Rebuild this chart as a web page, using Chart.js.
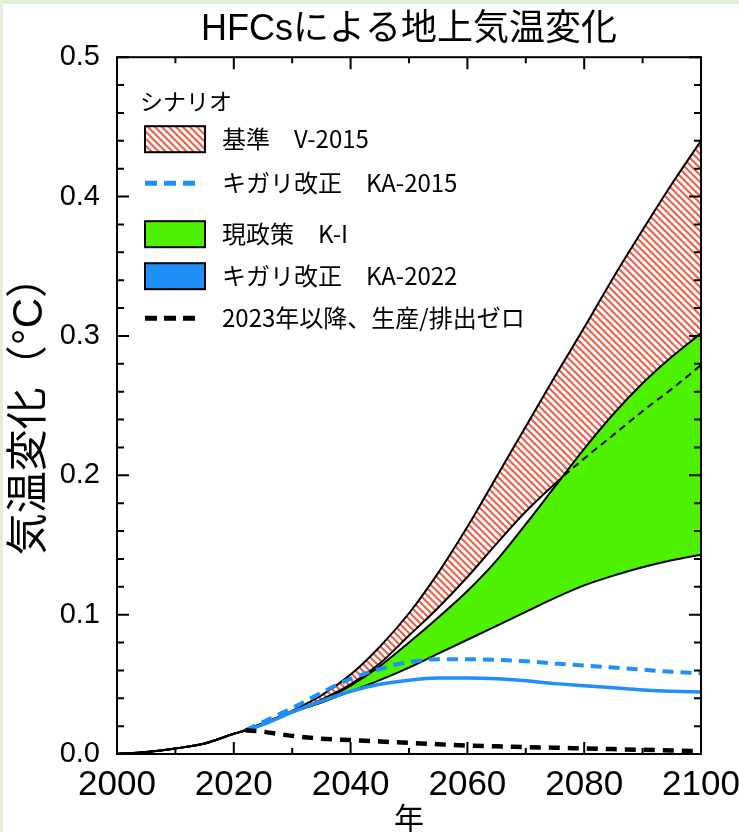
<!DOCTYPE html>
<html lang="ja">
<head>
<meta charset="UTF-8">
<title>HFCsによる地上気温変化</title>
<script src="https://cdn.jsdelivr.net/npm/chart.js"></script>
<style>
  html, body { margin: 0; padding: 0; background: #fff; }
  canvas { display: block; }
</style>
</head>
<body>
<canvas id="myChart" width="739" height="832"></canvas>
<script>
// 年（横軸）
const years = [2000, 2005, 2010, 2015, 2020, 2022, 2025, 2030, 2035, 2040, 2045, 2050,
               2055, 2060, 2065, 2070, 2075, 2080, 2085, 2090, 2095, 2100];

// 基準 V-2015（上限・下限）
const v2015Upper = [0, 0.0015, 0.004, 0.0075, 0.0145, 0.017, 0.022, 0.031, 0.042, 0.057, 0.077, 0.101,
                    0.130, 0.163, 0.199, 0.235, 0.271, 0.306, 0.342, 0.376, 0.409, 0.440];
const v2015Lower = [0, 0.0015, 0.004, 0.0075, 0.0145, 0.017, 0.022, 0.030, 0.039, 0.050, 0.065, 0.085,
                    0.105, 0.127, 0.151, 0.174, 0.194, 0.212, 0.229, 0.246, 0.262, 0.279];

// 現政策 K-I（上限・下限）
const kiUpper = [0, 0.0015, 0.004, 0.0075, 0.0145, 0.017, 0.022, 0.030, 0.038, 0.049, 0.063, 0.080,
                 0.098, 0.117, 0.139, 0.165, 0.192, 0.219, 0.244, 0.266, 0.285, 0.302];
const kiLower = [0, 0.0015, 0.004, 0.0075, 0.0145, 0.017, 0.022, 0.030, 0.037, 0.045, 0.053, 0.062,
                 0.072, 0.082, 0.092, 0.102, 0.112, 0.121, 0.128, 0.134, 0.139, 0.143];

// キガリ改正 KA-2015 / KA-2022、2023年以降ゼロ
const ka2015 = [null, null, null, null, null, 0.017, 0.023, 0.033, 0.044, 0.054, 0.061, 0.066,
                0.068, 0.068, 0.0675, 0.0665, 0.065, 0.0635, 0.062, 0.0605, 0.059, 0.058];
const ka2022 = [null, null, null, null, null, 0.017, 0.021, 0.030, 0.038, 0.045, 0.050, 0.053,
                0.0545, 0.0545, 0.054, 0.0525, 0.0505, 0.049, 0.0475, 0.046, 0.045, 0.0445];
const zero2023 = [null, null, null, null, null, 0.017, 0.016, 0.013, 0.011, 0.010, 0.009, 0.008,
                  0.007, 0.006, 0.0055, 0.005, 0.0045, 0.004, 0.0035, 0.003, 0.0025, 0.002];

// 凡例
const legendTitle = 'シナリオ';
const legendLabels = ['基準　V-2015', 'キガリ改正　KA-2015', '現政策　K-I', 'キガリ改正　KA-2022', '2023年以降、生産/排出ゼロ'];

const GREEN = '#4ef200';
const BLUE = '#1f8ffa';
const HATCH_RED = '#f0624c';

// 斜線パターン
function makeHatch() {
    const c = document.createElement('canvas');
    c.width = 7; c.height = 7;
    const g = c.getContext('2d');
    g.fillStyle = '#fff';
    g.fillRect(0, 0, 7, 7);
    g.strokeStyle = HATCH_RED;
    g.lineWidth = 2.2;
    g.beginPath();
    g.moveTo(-1, -1); g.lineTo(8, 8);
    g.moveTo(-1, 6); g.lineTo(1, 8);
    g.moveTo(6, -1); g.lineTo(8, 1);
    g.stroke();
    return g.createPattern(c, 'repeat');
}
const hatch = makeHatch();

const toXY = arr => years.map((yr, i) => ({ x: yr, y: arr[i] }));

// 背景（外枠の薄緑）
const pageBg = {
    id: 'pageBg',
    beforeDraw(chart) {
        const ctx = chart.ctx;
        ctx.save();
        ctx.fillStyle = '#e2efd9';
        ctx.fillRect(0, 0, chart.width, chart.height);
        ctx.fillStyle = '#fff';
        ctx.fillRect(3, 4, chart.width - 3, chart.height - 4);
        ctx.restore();
    }
};

// 枠と内向きの目盛り
const frameTicks = {
    id: 'frameTicks',
    afterDatasetsDraw(chart) {
        const { ctx, chartArea: a, scales: { x, y } } = chart;
        ctx.save();
        ctx.strokeStyle = '#000';
        ctx.lineWidth = 2;
        ctx.beginPath();
        for (let yr = 2000; yr <= 2100; yr += 10) {
            const px = x.getPixelForValue(yr);
            const len = yr % 20 === 0 ? 12 : 6;
            ctx.moveTo(px, a.bottom); ctx.lineTo(px, a.bottom - len);
            ctx.moveTo(px, a.top); ctx.lineTo(px, a.top + len);
        }
        for (let i = 0; i <= 25; i++) {
            const py = y.getPixelForValue(i * 0.02);
            const len = i % 5 === 0 ? 12 : 7;
            ctx.moveTo(a.left, py); ctx.lineTo(a.left + len, py);
            ctx.moveTo(a.right, py); ctx.lineTo(a.right - len, py);
        }
        ctx.stroke();
        ctx.strokeRect(a.left, a.top, a.right - a.left, a.bottom - a.top);
        ctx.restore();
    }
};

// 凡例（グラフ内左上）
const scenarioLegend = {
    id: 'scenarioLegend',
    afterDraw(chart) {
        const { ctx, chartArea: a } = chart;
        const bx = a.left + 28, tx = a.left + 105;
        const rows = [82, 126, 177, 219, 261];
        ctx.save();
        ctx.fillStyle = '#000';
        ctx.textBaseline = 'middle';
        ctx.font = '23px "Noto Sans CJK JP", sans-serif';
        ctx.fillText(legendTitle, a.left + 23, a.top + 44);
        ctx.font = '24px "Noto Sans CJK JP", sans-serif';
        legendLabels.forEach((label, i) => {
            const cy = a.top + rows[i];
            ctx.lineWidth = 2;
            ctx.strokeStyle = '#000';
            if (i === 0 || i === 2 || i === 3) {
                ctx.fillStyle = i === 0 ? hatch : (i === 2 ? GREEN : BLUE);
                ctx.fillRect(bx, cy - 13, 60, 26);
                ctx.strokeRect(bx, cy - 13, 60, 26);
            } else {
                ctx.strokeStyle = i === 1 ? BLUE : '#000';
                ctx.lineWidth = 5;
                ctx.setLineDash([12, 7]);
                ctx.beginPath();
                ctx.moveTo(bx, cy); ctx.lineTo(bx + 52, cy);
                ctx.stroke();
                ctx.setLineDash([]);
            }
            ctx.fillStyle = '#000';
            ctx.fillText(label, tx, cy);
        });
        ctx.restore();
    }
};

Chart.defaults.font.family = '"Liberation Sans", "Noto Sans CJK JP", sans-serif';
Chart.defaults.color = '#000';

const ctx = document.getElementById('myChart').getContext('2d');
const chart = new Chart(ctx, {
    type: 'line',
    data: {
        datasets: [
            { // 0: V-2015 上限（斜線の帯）
                data: toXY(v2015Upper), borderColor: '#000', borderWidth: 2,
                backgroundColor: hatch, fill: '+1', order: 6
            },
            { // 1: V-2015 下限（緑に隠れる部分は破線）
                data: toXY(v2015Lower), borderColor: '#000', borderWidth: 2, fill: false, order: 3,
                segment: { borderDash: c => c.p0.parsed.x >= 2075 ? [7, 5] : undefined }
            },
            { // 2: K-I 上限（緑の帯）
                data: toXY(kiUpper), borderColor: '#000', borderWidth: 2,
                backgroundColor: GREEN, fill: '+1', order: 5
            },
            { // 3: K-I 下限
                data: toXY(kiLower), borderColor: '#000', borderWidth: 2, fill: false, order: 4
            },
            { // 4: KA-2015
                data: toXY(ka2015), borderColor: BLUE, borderWidth: 4, borderDash: [11, 7], fill: false, order: 2
            },
            { // 5: KA-2022
                data: toXY(ka2022), borderColor: BLUE, borderWidth: 3.5, fill: false, order: 1
            },
            { // 6: 2023年以降ゼロ
                data: toXY(zero2023), borderColor: '#000', borderWidth: 4.5, borderDash: [11, 8], fill: false, order: 0
            }
        ]
    },
    options: {
        responsive: false,
        animation: false,
        elements: {
            point: { radius: 0 },
            line: { cubicInterpolationMode: 'monotone' }
        },
        layout: { padding: { top: 0, right: 38, bottom: 0, left: 0 } },
        plugins: {
            legend: { display: false },
            tooltip: { enabled: false },
            title: {
                display: true,
                text: 'HFCsによる地上気温変化',
                fullSize: false,
                font: { size: 36, weight: 'normal' },
                padding: { top: 8, bottom: 6 }
            }
        },
        scales: {
            x: {
                type: 'linear', min: 2000, max: 2100,
                grid: { display: false, drawTicks: false },
                border: { display: false },
                ticks: { stepSize: 20, autoSkip: false, maxRotation: 0, padding: 10,
                         font: { size: 35 }, callback: v => String(v) },
                title: { display: true, text: '年', font: { size: 30 }, padding: { top: 0, bottom: -7 } },
                afterFit: s => { s.height = 78; s.paddingLeft = 0; s.paddingRight = 0; }
            },
            y: {
                min: 0, max: 0.5,
                grid: { display: false, drawTicks: false },
                border: { display: false },
                ticks: { stepSize: 0.1, padding: 17, font: { size: 29 }, callback: v => v.toFixed(1) },
                title: { display: true, text: '気温変化（°C）', font: { size: 42 }, padding: { top: 5, bottom: 0 } },
                afterFit: s => { s.width = 117; s.paddingTop = 0; s.paddingBottom = 0; }
            }
        }
    },
    plugins: [pageBg, frameTicks, scenarioLegend]
});
</script>
</body>
</html>
